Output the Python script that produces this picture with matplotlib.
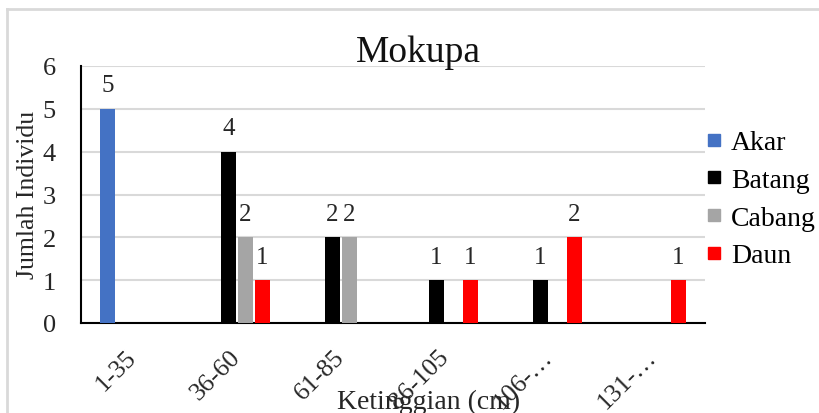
import numpy as np
import matplotlib
matplotlib.use("Agg")
import matplotlib.pyplot as plt
from matplotlib.lines import Line2D

plt.rcParams['font.family'] = ['Liberation Serif', 'DejaVu Serif']

# data: number of individuals per height class and plant part
kelas = ['1-35', '36-60', '61-85', '86-105', '106-…', '131-…']
bagian = ['Akar', 'Batang', 'Cabang', 'Daun']
akar = [5, 0, 0, 0, 0, 0]
batang = [0, 4, 2, 1, 1, 0]
cabang = [0, 2, 2, 0, 0, 0]
daun = [0, 1, 0, 1, 2, 1]
warna = ['#4472C4', '#000000', '#A5A5A5', '#FF0000']

W, H = 819, 414
fig = plt.figure(figsize=(W / 100, H / 100), dpi=100)
ax = fig.add_axes([81 / W, 1 - 324 / H, (705 - 81) / W, (324 - 67) / H])

x = np.arange(len(kelas))
slot = 17 / 104.0
lebar = 15 / 104.0
for i, (nama, vals, c) in enumerate(zip(bagian, [akar, batang, cabang, daun], warna)):
    pos = x + (i - 1.5) * slot
    ax.bar(pos, vals, width=lebar, color=c, zorder=3)
    for px, v in zip(pos, vals):
        if v > 0:
            ax.annotate(str(v), (px, v), xytext=(0, 9), textcoords='offset points',
                        ha='center', va='bottom', fontsize=18, color='#262626')

ax.set_xlim(-0.5, len(kelas) - 0.5)
ax.set_ylim(0, 6)
ax.set_yticks(range(0, 7))
ax.yaxis.grid(True, color='#d9d9d9', linewidth=1.5, zorder=0)
ax.set_axisbelow(True)
ax.set_xticks(x)
ax.set_xticklabels(kelas, rotation=45, ha='right', va='center',
                   rotation_mode='anchor', fontsize=18.5)
ax.tick_params(axis='x', length=0, pad=22, colors='#262626')
ax.tick_params(axis='y', length=0, pad=18, labelsize=19, colors='#262626')
for s in ['top', 'right']:
    ax.spines[s].set_visible(False)
for s in ['left', 'bottom']:
    ax.spines[s].set_linewidth(1.5)
    ax.spines[s].set_color('black')

fig.text(418 / W, 1 - 62 / H, 'Mokupa', ha='center', va='baseline', fontsize=27, color='#111111')
fig.text(28 / W, 1 - 195 / H, 'Jumlah Individu', rotation=90, ha='center', va='center',
         fontsize=18.5, color='#262626')
fig.text(429 / W, 1 - 409 / H, 'Ketinggian (cm)', ha='center', va='baseline',
         fontsize=20, color='#262626')

handles = [Line2D([], [], marker='s', linestyle='', color=c, markersize=9) for c in warna]
fig.legend(handles, bagian, loc='upper left', bbox_to_anchor=(706 / W, 1 - 131 / H),
           frameon=False, fontsize=20, handlelength=0.6, handletextpad=0.3,
           labelspacing=0.44, borderaxespad=0, borderpad=0)

# chart area border (left and top edges)
fig.add_artist(Line2D([7 / W, 7 / W], [0, 1 - 10 / H], color='#d9d9d9', linewidth=2,
                      transform=fig.transFigure))
fig.add_artist(Line2D([7 / W, 1], [1 - 10 / H, 1 - 10 / H], color='#d9d9d9', linewidth=2,
                      transform=fig.transFigure))

fig.savefig('out.png', dpi=100)
